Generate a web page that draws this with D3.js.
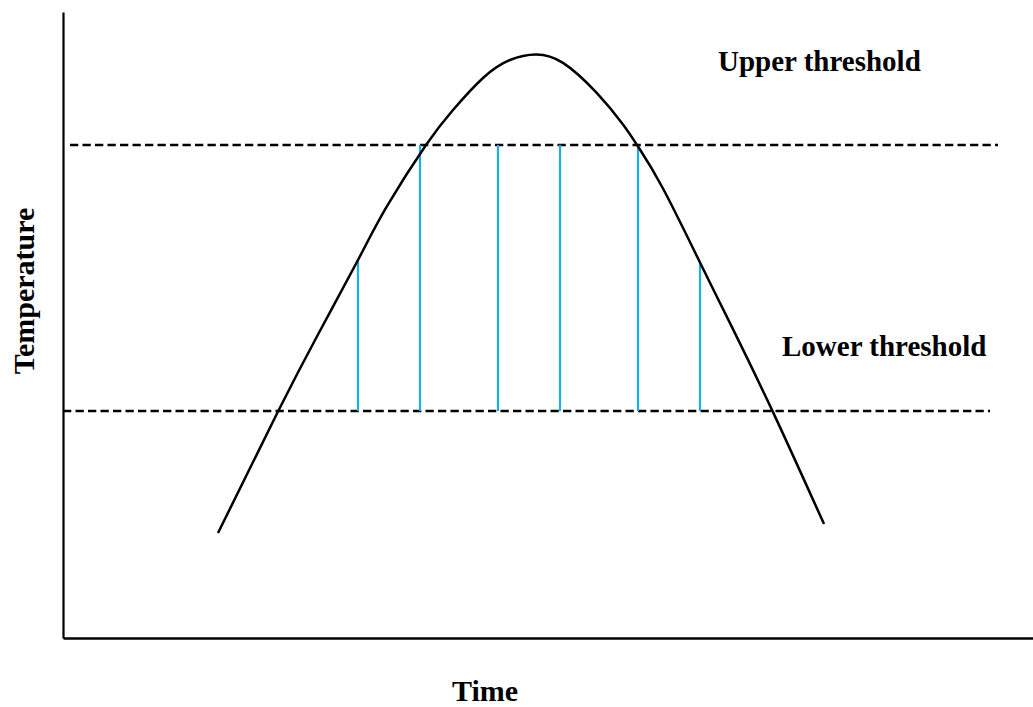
<!DOCTYPE html>
<html>
<head>
<meta charset="utf-8">
<script src="https://cdn.jsdelivr.net/npm/d3@7"></script>
<style>
  html, body { margin: 0; padding: 0; background: #fff; }
  svg { display: block; }
  text { font-family: "Liberation Serif", "Times New Roman", serif; font-weight: bold; fill: #000; }
</style>
</head>
<body>
<svg id="chart" width="1033" height="707"></svg>
<script>
// ---- Data (Time, Temperature) ----
const curveTime = [15.5, 21.5, 25.5, 29.5, 32.37, 36.3, 39.0, 42.0, 44.7, 47.3, 50.0, 53.37, 56.0, 57.5, 60.0, 63.7, 66.7, 71.0, 76.1];
const curveTemp = [10.5, 22.65, 30.35, 37.8, 43.13, 49.3, 52.8, 56.0, 57.8, 58.35, 57.51, 54.51, 51.35, 49.15, 44.95, 37.55, 31.49, 22.59, 11.4];

const upperThreshold = 49.3;
const lowerThreshold = 22.7;
const upperExtent = [0.7, 93.5];
const lowerExtent = [0.0, 92.7];

const sampleTime = [29.5, 35.7, 43.5, 49.7, 57.5, 63.7];
const sampleTop  = [37.8, 49.3, 49.3, 49.3, 49.3, 37.5];

const labels = ["Upper threshold", "Lower threshold"];
const xTitle = "Time";
const yTitle = "Temperature";

const timeDomain = [0, 97];
const tempDomain = [0, 62.6];

// ---- Drawing ----
const svg = d3.select("#chart");
const x = d3.scaleLinear().domain(timeDomain).range([63, 1033]);
const y = d3.scaleLinear().domain(tempDomain).range([638, 12]);

// axes (no ticks)
const xAxis = d3.axisBottom(x).tickValues([]).tickSizeOuter(0);
const yAxis = d3.axisLeft(y).tickValues([]).tickSizeOuter(0);
const gx = svg.append("g").attr("transform", `translate(0,${y(0)})`).call(xAxis);
const gy = svg.append("g").attr("transform", `translate(${x(0)},0)`).call(yAxis);
gx.select(".domain").attr("stroke", "#000").attr("stroke-width", 2.6);
gy.select(".domain").attr("stroke", "#000").attr("stroke-width", 2.2);

// threshold dashed lines
const thresholds = [
  { v: upperThreshold, ext: upperExtent },
  { v: lowerThreshold, ext: lowerExtent }
];
svg.selectAll("line.thr").data(thresholds).join("line")
  .attr("class", "thr")
  .attr("x1", d => x(d.ext[0])).attr("x2", d => x(d.ext[1]))
  .attr("y1", d => y(d.v)).attr("y2", d => y(d.v))
  .attr("stroke", "#000").attr("stroke-width", 2.6)
  .attr("stroke-dasharray", "8.3,4.2");

// blue sampling lines
const samples = sampleTime.map((t, i) => ({ t, top: sampleTop[i] }));
svg.selectAll("line.samp").data(samples).join("line")
  .attr("class", "samp")
  .attr("x1", d => x(d.t)).attr("x2", d => x(d.t))
  .attr("y1", y(lowerThreshold)).attr("y2", d => y(d.top))
  .attr("stroke", "#17b0e8").attr("stroke-width", 2.2);

// temperature curve
const pts = curveTime.map((t, i) => [t, curveTemp[i]]);
const line = d3.line().x(d => x(d[0])).y(d => y(d[1])).curve(d3.curveNatural);
svg.append("path").datum(pts)
  .attr("d", line)
  .attr("fill", "none").attr("stroke", "#000").attr("stroke-width", 2.5);

// labels
svg.append("text").attr("x", 718).attr("y", 71).attr("font-size", 29).text(labels[0]);
svg.append("text").attr("x", 782).attr("y", 356).attr("font-size", 29).text(labels[1]);
svg.append("text").attr("x", 485).attr("y", 701).attr("text-anchor", "middle").attr("font-size", 30).text(xTitle);
svg.append("text").attr("transform", "translate(34,291) rotate(-90)").attr("text-anchor", "middle").attr("font-size", 30).text(yTitle);
</script>
</body>
</html>
